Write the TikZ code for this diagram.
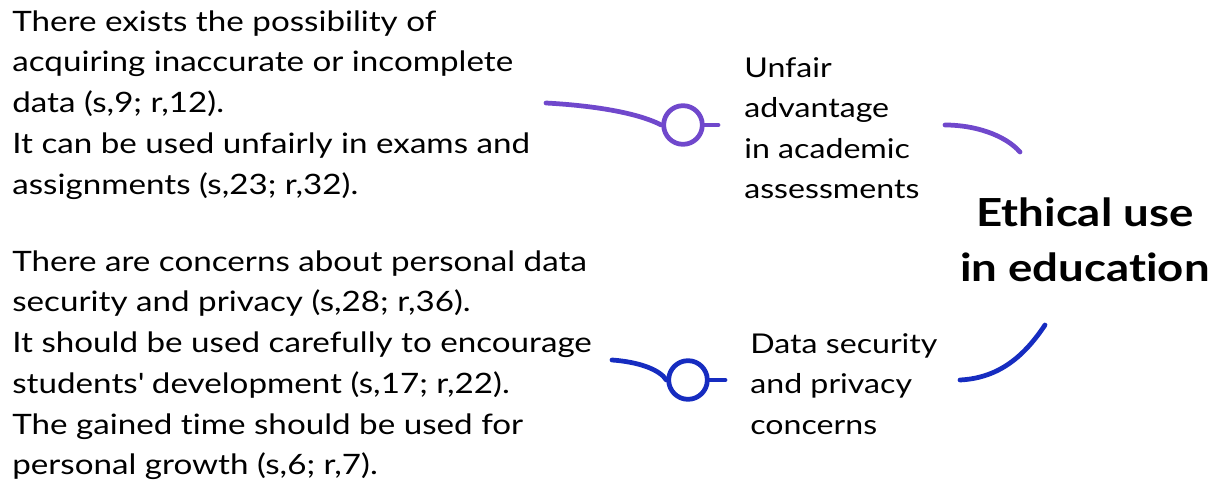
\documentclass[tikz,border=0pt]{standalone}
\usepackage{fontspec}
\setmainfont{Lato}[FakeStretch=1.18, Ligatures=NoCommon]
\usepackage{tikz}
\usetikzlibrary{calc}
\usetikzlibrary{positioning}

\definecolor{purpleline}{RGB}{112,72,204}
\definecolor{blueline}{RGB}{22,44,192}

\tikzset{
  body/.style={align=left, anchor=north west, inner sep=0pt, font=\fontsize{16}{23.2}\selectfont},
  label/.style={align=left, anchor=north west, inner sep=0pt, font=\fontsize{15.5}{23}\selectfont},
  ring/.style={circle, draw=#1, line width=2.7pt, fill=white, minimum size=22, inner sep=0pt},
  link/.style={draw=#1, line width=2.7pt, line cap=round},
}

\begin{document}
\begin{tikzpicture}[x=0.02cm, y=0.02cm]
\useasboundingbox (0,0) rectangle (1218,480);

% Left text blocks
\node[body] (risks) at (12,470) {There exists the possibility of\\
acquiring inaccurate or incomplete\\
data (s,9; r,12).\\
It can be used unfairly in exams and\\
assignments (s,23; r,32).};
\node[body] (cares) at (12,230) {There are concerns about personal data\\
security and privacy (s,28; r,36).\\
It should be used carefully to encourage\\
students\textquotesingle\ development (s,17; r,22).\\
The gained time should be used for\\
personal growth (s,6; r,7).};

% Themes
\node[label] (unfair) at (744,423) {Unfair\\advantage\\in academic\\assessments};
\node[label] (datasec) at (750,147) {Data security\\and privacy\\concerns};

% Central topic
\node[align=center, inner sep=0pt, font=\fontsize{22}{31.5}\bfseries\selectfont] (ethics) at (1085,240) {Ethical use\\in education};

% Purple connector
\coordinate (p0) at (546,377);
\node[ring=purpleline] (pr) at (683,355) {};
\coordinate (p1) at (718,355);
\draw[link=purpleline] (p0) .. controls (600,374) and (640,366) .. (pr.west);
\draw[link=purpleline] (pr.east) -- (p1);
\coordinate (p2) at (945,355);
\coordinate (p3) at (1020,328);
\draw[link=purpleline] (p2) .. controls (975,355) and (1005,345) .. (p3);

% Blue connector
\coordinate (b0) at (612,120);
\node[ring=blueline] (br) at (688,100) {};
\coordinate (b1) at (725,100);
\draw[link=blueline] (b0) .. controls (640,118) and (660,110) .. (br.west);
\draw[link=blueline] (br.east) -- (b1);
\coordinate (b2) at (960,100);
\coordinate (b3) at (1045,155);
\draw[link=blueline] (b2) .. controls (1000,102) and (1025,125) .. (b3);

\end{tikzpicture}
\end{document}
